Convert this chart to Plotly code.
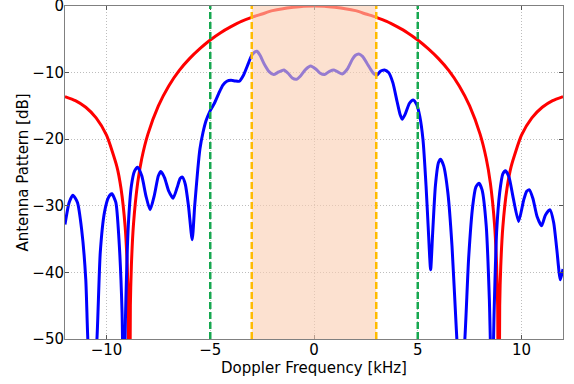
import plotly.graph_objects as go

# Beam pattern (red) samples, kHz / dB
beam_f = [-12.0, -11.5, -11.0, -10.5, -10.0, -9.5, -9.3, -9.1, -9.0, -8.95, -8.9, -8.85, -8.8, -8.7, -8.5, -8.3,
          -8.0, -7.5, -7.0, -6.5, -6.0, -5.5, -5.0, -4.5, -4.0, -3.5, -3.0, -2.5, -2.0, -1.5, -1.0, -0.5,
          0.0, 0.5, 1.0, 1.5, 2.0, 2.5, 3.0, 3.5, 4.0, 4.5, 5.0, 5.5, 6.0, 6.5, 7.0, 7.5, 8.0, 8.3, 8.5,
          8.7, 8.8, 8.85, 8.9, 8.95, 9.0, 9.1, 9.3, 9.5, 10.0, 10.5, 11.0, 11.5, 12.0]
beam_db = [-13.6, -14.2, -15.2, -16.8, -19.4, -24.1, -27.4, -33.2, -39.1, -45.0, -80.0, -45.0, -38.9, -32.8, -26.6, -22.9,
           -19.2, -15.0, -12.0, -9.7, -7.9, -6.4, -5.1, -4.0, -3.1, -2.3, -1.7, -1.2, -0.7, -0.4, -0.2, -0.05,
           0.0, -0.05, -0.2, -0.4, -0.7, -1.2, -1.7, -2.3, -3.1, -4.0, -5.1, -6.4, -7.9, -9.7, -12.0, -15.0, -19.2, -22.9, -26.6,
           -32.8, -38.9, -45.0, -80.0, -45.0, -39.1, -33.2, -27.4, -24.1, -19.4, -16.8, -15.2, -14.2, -13.6]

# Measured antenna pattern (blue) samples, kHz / dB
meas_f = [-12.0, -11.8, -11.62, -11.4, -11.2, -11.0, -10.9, -10.7, -10.46, -10.3, -10.1, -9.9, -9.74, -9.55, -9.4,
          -9.25, -9.17, -9.08, -8.95, -8.8, -8.65, -8.5, -8.3, -8.1, -7.9, -7.7, -7.5, -7.38, -7.2, -7.0, -6.79,
          -6.6, -6.45, -6.34, -6.2, -6.05, -5.87, -5.75, -5.6, -5.5, -5.35, -5.2, -5.0, -4.8, -4.6, -4.4, -4.2,
          -4.0, -3.8, -3.6, -3.4, -3.2, -3.0, -2.85, -2.75, -2.6, -2.4, -2.15, -1.95, -1.7, -1.45, -1.25, -1.05,
          -0.85, -0.65, -0.4, -0.16, 0.1, 0.3, 0.5, 0.75, 0.96, 1.15, 1.36, 1.6, 1.85, 2.0, 2.16, 2.35, 2.55,
          2.75, 2.9, 3.04, 3.2, 3.4, 3.6, 3.8, 4.0, 4.15, 4.25, 4.4, 4.6, 4.78, 4.95, 5.1, 5.25, 5.4, 5.5,
          5.62, 5.72, 5.85, 6.0, 6.1, 6.25, 6.45, 6.65, 6.85, 7.05, 7.27, 7.45, 7.65, 7.8, 7.95, 8.1, 8.3,
          8.45, 8.58, 8.68, 8.8, 8.95, 9.1, 9.23, 9.4, 9.6, 9.86, 10.1, 10.25, 10.38, 10.55, 10.75, 10.97,
          11.15, 11.37, 11.55, 11.7, 11.87, 12.0]
meas_db = [-32.8, -29.5, -28.4, -29.5, -33.5, -41.0, -50.0, -60.0, -50.0, -37.0, -31.0, -28.7, -28.2, -29.5, -35.0,
           -46.0, -62.0, -46.0, -33.0, -27.0, -24.8, -24.2, -25.5, -28.5, -30.6, -28.5, -25.5, -24.85, -25.8, -27.8, -28.85,
           -27.3, -25.9, -25.7, -26.8, -30.0, -35.1, -30.0, -24.5, -21.5, -19.0, -17.2, -15.7, -14.6, -13.2, -11.9, -11.3,
           -11.15, -11.25, -11.3, -10.4, -8.9, -7.4, -6.9, -6.8, -7.4, -8.7, -9.9, -10.3, -9.9, -9.6, -10.1, -10.8,
           -11.0, -10.5, -9.5, -9.0, -9.5, -10.1, -10.3, -9.8, -9.6, -9.9, -10.2, -9.5, -8.0, -7.4, -7.2, -7.6, -8.6,
           -9.6, -10.2, -10.35, -9.8, -9.6, -10.0, -11.5, -14.3, -16.3, -17.0, -16.2, -14.6, -14.1, -14.8, -16.6, -20.0, -27.0, -33.0,
           -39.6, -34.0, -27.0, -23.5, -23.0, -24.0, -28.0, -36.0, -48.0, -58.0, -50.0, -38.0, -30.0, -27.2, -26.6, -27.6, -33.0,
           -44.0, -60.0, -46.0, -34.0, -28.0, -25.2, -24.75, -25.7, -28.8, -32.35, -29.2, -27.8, -27.6, -28.9, -31.6, -33.0,
           -31.4, -30.6, -32.5, -36.5, -41.1, -39.5]

# Band edges (kHz)
inner_edges = [-3, 3]
outer_edges = [-5, 5]

x_ticks = [-10, -5, 0, 5, 10]
y_ticks = [0, -10, -20, -30, -40, -50]

FONT = "DejaVu Sans"

fig = go.Figure()
fig.add_trace(go.Scatter(x=beam_f, y=beam_db, mode="lines",
                         line=dict(color="#ff0000", width=3, shape="spline", smoothing=0.6),
                         showlegend=False))
fig.add_trace(go.Scatter(x=meas_f, y=meas_db, mode="lines",
                         line=dict(color="#0000ff", width=3, shape="spline", smoothing=0.6),
                         showlegend=False))

# shaded inner band above the curves
fig.add_shape(type="rect", xref="x", yref="paper", x0=inner_edges[0], x1=inner_edges[1], y0=0, y1=1,
              fillcolor="rgba(250,205,177,0.6)", line=dict(width=0), layer="above")
for xv in outer_edges:
    fig.add_shape(type="line", xref="x", yref="paper", x0=xv, x1=xv, y0=0, y1=1,
                  line=dict(color="#16a850", width=2.5, dash="7px,3px"), layer="above")
for xv in inner_edges:
    fig.add_shape(type="line", xref="x", yref="paper", x0=xv, x1=xv, y0=0, y1=1,
                  line=dict(color="#ffbb00", width=2.5, dash="7px,3px"), layer="above")

axis_common = dict(showline=True, linecolor="#808080", linewidth=1, mirror="allticks",
                   ticks="inside", ticklen=4, tickcolor="#555555",
                   showgrid=True, gridcolor="#bdbdbd", griddash="1px,2px", gridwidth=1,
                   zeroline=False, automargin=False, ticklabeloverflow="allow",
                   tickfont=dict(family=FONT, size=15, color="#000000"))

fig.update_xaxes(range=[-12, 12], tickvals=x_ticks, ticklabelstandoff=-3,
                 title=dict(text="Doppler Frequency [kHz]", font=dict(family=FONT, size=15, color="#000000"),
                            standoff=0),
                 **axis_common)
fig.update_yaxes(range=[-50, 0.001], tickvals=y_ticks, ticklabelstandoff=-3,
                 title=dict(text="Antenna Pattern [dB]", font=dict(family=FONT, size=15, color="#000000"),
                            standoff=0),
                 **axis_common)

fig.update_layout(width=574, height=384, margin=dict(l=65, r=11, t=6, b=45),
                  plot_bgcolor="white", paper_bgcolor="white",
                  font=dict(family=FONT, size=15, color="#000000"))

fig.write_html("out.html", config={"displayModeBar": False},
               post_script="document.body.style.margin='0';document.body.style.padding='0';")
